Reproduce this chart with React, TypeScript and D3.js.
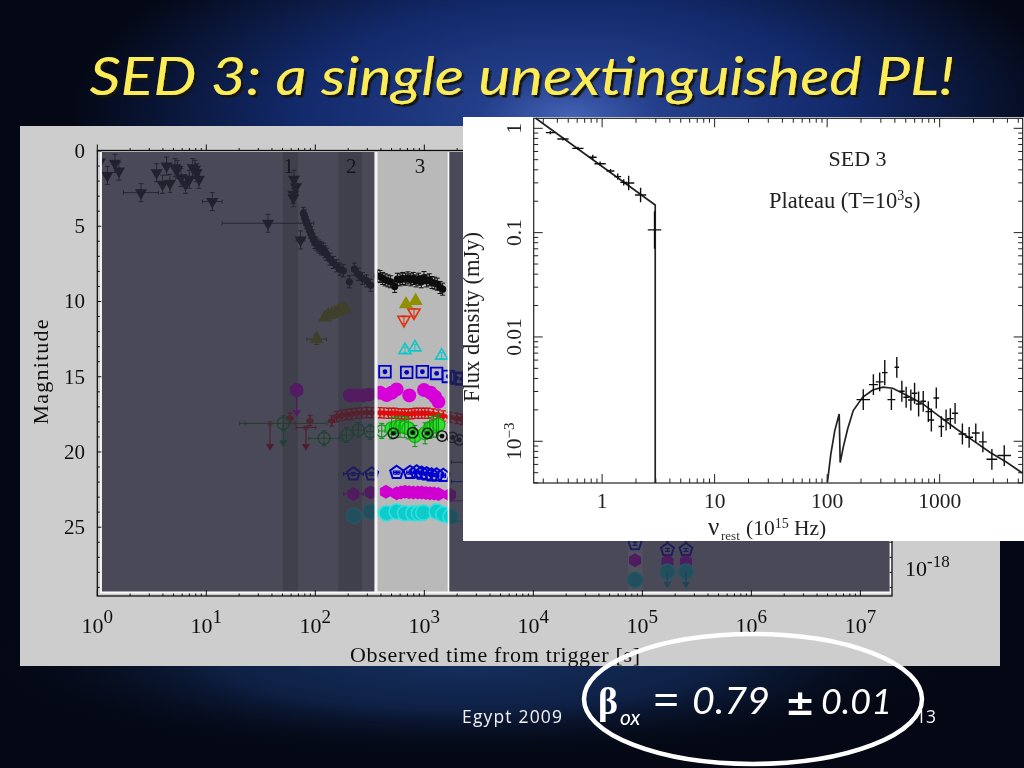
import React from "react";
import * as d3 from "d3";

// ---------- left panel data (log10 time [s], magnitude) ----------
const uvotLimT = [.024,.092,.162,.199,.544,.599,.636,.667,.713,.734,.768,.81,.844,.875,.896,.911,.933,.401,1.055,1.566,1.804,1.823,1.798,1.798,1.865];
const uvotLimM = [.73,1.62,.82,1.33,1.44,2.21,1,2.15,1.11,1.22,1.77,2.21,1.88,1.11,1.22,1.44,1.88,2.77,3.36,4.8,1.88,2.37,2.88,3.1,5.91];
const uvotLimDx = [0,0,0,0,0,0,0,0,0,0,0,0,0,0,0,0,0,.16,.09,.42,0,0,0,0,.04];
const blackT = [1.89,1.899,1.908,1.92,1.933,1.945,1.957,1.969,1.982,1.997,2.012,2.028,2.043,2.058,2.073,2.089,2.104,2.135,2.165,2.196,2.226,2.257,2.312,2.358,2.394,2.431,2.471,2.508,2.569,2.593,2.618,2.642,2.667,2.691,2.728,2.752,2.777,2.801,2.826,2.85,2.875,2.899,2.924,2.948,2.972,2.997,3.021,3.046,3.07,3.095,3.119,3.144,3.168];
const blackM = [4.14,4.31,4.54,4.76,4.98,5.2,5.42,5.64,5.86,6.08,6.19,6.31,6.42,6.5,6.53,6.7,6.86,7.19,7.41,7.63,7.85,7.96,8.69,7.85,8.19,8.47,8.63,8.92,8.3,8.34,8.47,8.56,8.63,8.69,9,8.52,8.56,8.47,8.52,8.43,8.56,8.47,8.63,8.52,8.69,8.41,8.63,8.56,8.74,8.78,8.85,9.07,9.18];
const oliveT = [2.012,2.089,2.12,2.15,2.18,2.21,2.242,2.272,2.832,2.92];
const oliveM = [12.5,11.06,10.9,10.84,10.73,10.62,10.46,10.5,10.18,9.96];
const redLimT = [2.813,2.905];
const redLimM = [11.22,10.73];
const cyanTriT = [2.823,2.914,3.159];
const cyanTriM = [13.23,13.05,13.6];
const squareT = [2.639,2.838,2.982,3.113,3.22,3.297,3.343];
const squareM = [14.67,14.71,14.67,14.78,14.98,15.09,15.16];
const magentaT = [1.829,2.318,2.379,2.44,2.492,2.593,2.654,2.7,2.746,2.862,2.997,3.058,3.098,3.129];
const magentaM = [15.885,16.24,16.24,16.24,16.19,16.06,16.22,16.06,15.84,16.24,15.88,16.06,16.33,16.66];
const redT = [1.768,1.951,2.15,2.196,2.242,2.287,2.333,2.379,2.425,2.471,2.517,2.593,2.63,2.67,2.7,2.731,2.76,2.792,2.82,2.853,2.885,2.914,2.945,2.976,3.005,3.037,3.083,3.129,3.174,3.235,3.297,3.343];
const redM = [17.77,17.92,17.94,17.65,17.57,17.52,17.48,17.43,17.41,17.37,17.39,17.39,17.41,17.43,17.43,17.43,17.46,17.48,17.48,17.48,17.46,17.43,17.43,17.43,17.43,17.43,17.48,17.54,17.61,17.7,17.77,17.83];
const redLimitT = [1.584,1.914];
const redLimitM = [18.1,18.38];
const redLimitDx = [.23,.09];
const greenT = [1.706,2.08,2.287,2.394,2.502,2.609];
const greenM = [18.1,19.09,18.87,18.54,18.65,18.6];
const greenDx = [.4,.14,.06,.05,.03,.03];
const limeT = [2.7,2.74,2.777,2.82,2.853,2.914,3.006,3.05,3.083,3.11,3.129];
const limeM = [18.43,18.35,18.32,18.35,18.43,18.94,18.76,18.4,18.32,18.3,18.2];
const ringT = [2.716,2.893,3.028,3.162,3.257,3.321];
const ringM = [18.76,18.72,18.76,18.94,19.03,19.2];
const pentT = [2.349,2.517,2.746,2.869,2.93,2.976,3.021,3.067,3.113,3.174,4.933,5.23,5.4];
const pentM = [21.46,21.46,21.37,21.37,21.33,21.42,21.46,21.53,21.53,21.57,26.1,26.5,26.5];
const pentDx = [.09,.05,.03,.03,.02,.02,.02,.02,.02,.02,0,0,0];
const hexT = [2.349,2.508,2.648,2.746,2.785,2.823,2.86,2.899,2.94,2.976,3.015,3.052,3.09,3.129,3.235,4.933,5.23,5.4];
const hexM = [22.79,22.7,22.65,22.74,22.7,22.65,22.68,22.7,22.7,22.7,22.72,22.74,22.76,22.79,22.85,27.2,27.3,27.3];
const hexDx = [.09,.05,.03,.02,.02,.02,.02,.02,.02,.02,.02,.02,.02,.02,.02,0,0,0];
const tealT = [2.355,2.508,2.654,2.746,2.823,2.899,2.95,2.991,3.113,3.174,3.241,4.933,5.23,5.4];
const tealM = [24.25,23.96,24.07,23.96,24.07,24.07,24.07,24.03,23.96,24.14,24.3,28.5,27.95,27.95];
const hiddenBarT = [3.55,3.55,3.55,3.55];
const hiddenBarM = [20.68,21.97,23.24,24.6];
const hiddenBarCol = ["#222244","#0000cc","#cc00cc","#00cccc"];
const bandEdges = [[1.7,1.84],[2.21,2.43]];
const bandNames = ["1","2","3"];
const bandNameT = [1.755,2.33,2.96];
const band3 = [2.55,3.21];
const lateBand = [4.87,5.0];
const xDecades = [0,1,2,3,4,5,6,7];
const yMags = [0,5,10,15,20,25];

// ---------- SED data (log10 nu, log10 flux, half-widths in dex) ----------
const optNu = [-.46,-.348,-.215,-.083,-.018,.074,.139,.192,.236,.342,.466];
const optFlux = [-.041,-.102,-.192,-.278,-.339,-.409,-.463,-.518,-.524,-.639,-.974];
const optDx = [.04,.05,.05,.035,.05,.035,.03,.03,.05,.05,.06];
const optDy = [.015,.015,.015,.025,.02,.02,.03,.03,.07,.07,.18];
const uvNu = [2.321,2.411,2.467,2.512,2.571,2.619,2.664,2.702,2.744,2.777,2.813,2.854,2.899,2.926,2.97,3.015,3.057,3.095,3.137,3.202,3.262,3.321,3.384,3.464,3.574];
const uvFlux = [-2.601,-2.457,-2.431,-2.342,-2.601,-2.291,-2.521,-2.578,-2.604,-2.54,-2.642,-2.617,-2.716,-2.796,-2.585,-2.859,-2.796,-2.783,-2.732,-2.93,-2.962,-2.92,-3.006,-3.173,-3.137];
const uvDx = [.06,.04,.035,.025,.035,.02,.025,.025,.025,.025,.025,.025,.025,.025,.025,.025,.025,.03,.027,.035,.035,.035,.035,.048,.06];
const uvDy = [.1,.1,.09,.12,.1,.1,.1,.1,.1,.1,.12,.1,.1,.11,.1,.1,.1,.1,.1,.1,.1,.09,.1,.1,.1];
const modelOptNu = [-.59,.472,.472];
const modelOptFlux = [.096,-.735,-3.4];
const modelUvNu = [2.003,2.033,2.068,2.107,2.116,2.143,2.182,2.232,2.315,2.405,2.494,2.583,2.702,2.851,3,3.149,3.298,3.446,3.595,3.738];
const modelUvFlux = [-3.39,-3.121,-2.898,-2.738,-3.204,-3.058,-2.882,-2.706,-2.578,-2.508,-2.482,-2.492,-2.556,-2.642,-2.764,-2.882,-2.994,-3.105,-3.201,-3.307];
const sedXLabels = ["1","10","100","1000"];
const sedXVals = [1,10,100,1000];
const sedYVals = [1,0.1,0.01];

const tx = d3.scaleLog().domain([1, 10 ** 7.29]).range([97.3, 892]);
const my = d3.scaleLinear().domain([0, 29.57]).range([151, 596]);
const t = (lg: number) => tx(10 ** lg);
const nx = d3.scaleLog().domain([10 ** -.608, 10 ** 3.738]).range([533.7, 1022.7]);
const fy = d3.scaleLog().domain([10 ** .096, 10 ** -3.4]).range([118.3, 483]);
const n = (lg: number) => nx(10 ** lg);
const f = (lg: number) => fy(10 ** lg);

const poly = (k: number, r: number, rot = -Math.PI / 2) =>
  d3.line()(d3.range(k).map(i => [r * Math.cos(rot + i * 2 * Math.PI / k), r * Math.sin(rot + i * 2 * Math.PI / k)] as [number, number])) + "Z";
const up = poly(3, 7);
const down = poly(3, 7, Math.PI / 2);
const pent = poly(5, 6.8);
const hexa = poly(6, 7);

const Bars = ({ T, M, Dx, Dy = .35, color, w = 1 }: any) => (
  <g stroke={color} strokeWidth={w} fill="none">
    {T.map((lg: number, i: number) => {
      const dx = Dx ? Dx[i] : 0;
      const x = t(lg), y = my(M[i]);
      return <g key={i}>
        {dx > 0 && <path d={`M${t(lg - dx)},${y}H${t(lg + dx)}M${t(lg - dx)},${y - 2}v4M${t(lg + dx)},${y - 2}v4`} />}
        <path d={`M${x},${my(M[i] - Dy)}V${my(M[i] + Dy)}M${x - 2.5},${my(M[i] - Dy)}h5M${x - 2.5},${my(M[i] + Dy)}h5`} />
      </g>;
    })}
  </g>
);
const Marks = ({ T, M, d, fill = "none", stroke = "none", sw = 1.2 }: any) => (
  <g>{T.map((lg: number, i: number) => <path key={i} d={d} transform={`translate(${t(lg)},${my(M[i])})`} fill={fill} stroke={stroke} strokeWidth={sw} />)}</g>
);
const Discs = ({ T, M, r, fill = "none", stroke = "none", sw = 1.2 }: any) => (
  <g>{T.map((lg: number, i: number) => <circle key={i} cx={t(lg)} cy={my(M[i])} r={r} fill={fill} stroke={stroke} strokeWidth={sw} />)}</g>
);
const Cross = ({ X, Y, Dx, Dy }: any) => (
  <g stroke="#111" strokeWidth={1.4} fill="none">
    {X.map((lg: number, i: number) => <path key={i} d={`M${n(lg - Dx[i])},${f(Y[i])}H${n(lg + Dx[i])}M${n(lg)},${f(Y[i] - Dy[i])}V${f(Y[i] + Dy[i])}`} />)}
  </g>
);
const Arrow = ({ lg, m0, m1, color }: any) => {
  const x = t(lg), a = my(m0), b = my(m1);
  return <path d={`M${x},${a}V${b}M${x - 3},${b - 5}L${x},${b}L${x + 3},${b - 5}Z`} stroke={color} strokeWidth={1.2} fill={color} />;
};

const serif = "'Liberation Serif', serif";
const xline = d3.line<[number, number]>().x(d => n(d[0])).y(d => f(d[1]));

export default function App() {
  const xMinor = tx.ticks(60);
  const yMinor = d3.range(0, 30);
  const nTicks = nx.ticks(60);
  const fTicks = fy.ticks(60);
  const x0 = 101.5, x1 = 375, x2 = 448.5, x3 = 890.5, yTop = 152, yBot = 592.5;
  const veil = "rgba(37,37,56,0.75)";
  return (
    <svg width={1024} height={768} style={{ position: "fixed", left: 0, top: 0, display: "block" }}>
      <defs>
        <radialGradient id="bgTop" gradientUnits="userSpaceOnUse" cx={570} cy={115} r={500} gradientTransform="translate(570 115) scale(1 .42) translate(-570 -115)">
          <stop offset="0" stopColor="#4262b4" />
          <stop offset=".18" stopColor="#243f8a" />
          <stop offset=".55" stopColor="#12296a" />
          <stop offset="1" stopColor="#040814" />
        </radialGradient>
        <radialGradient id="bgBot" gradientUnits="userSpaceOnUse" cx={470} cy={660} r={500} gradientTransform="translate(470 660) scale(1 .2) translate(-470 -660)">
          <stop offset="0" stopColor="#16305f" />
          <stop offset=".5" stopColor="#0e2044" />
          <stop offset="1" stopColor="#040814" stopOpacity="0" />
        </radialGradient>
        <clipPath id="plotClip"><rect x={x0} y={yTop} width={x3 - x0} height={yBot - yTop} /></clipPath>
        <filter id="soft" x="-5%" y="-5%" width="110%" height="110%"><feGaussianBlur stdDeviation="0.45" /></filter>
        <filter id="titleShadow" x="-5%" y="-20%" width="110%" height="140%"><feDropShadow dx="2.5" dy="2.5" stdDeviation="0.6" floodColor="#14140a" floodOpacity="1" /></filter>
      </defs>
      <rect width={1024} height={768} fill="#040814" />
      <rect width={1024} height={768} fill="url(#bgTop)" />
      <rect width={1024} height={768} fill="url(#bgBot)" />

      {/* title */}
      <text x={522} y={95} textAnchor="middle" fontFamily="Lato, sans-serif" fontStyle="italic" fontSize={52} fill="#fbec58" textLength={865} lengthAdjust="spacingAndGlyphs" filter="url(#titleShadow)">SED 3: a single unextinguished PL!</text>

      {/* left panel */}
      <rect x={20} y={126} width={980} height={540} fill="#cdcdcd" />
      <g filter="url(#soft)">
        <rect x={x0} y={yTop} width={x3 - x0} height={yBot - yTop} fill="#b9b9b9" />
        {bandEdges.map((b, i) => <rect key={i} x={t(b[0])} y={yTop} width={t(b[1]) - t(b[0])} height={yBot - yTop} fill="#8f8f8f" />)}
        <rect x={t(lateBand[0])} y={yTop} width={t(lateBand[1]) - t(lateBand[0])} height={yBot - yTop} fill="#d4d4d4" />
        <g clipPath="url(#plotClip)">
          <Bars T={uvotLimT} M={uvotLimM} Dx={uvotLimDx} Dy={.6} color="#222" />
          <Marks T={uvotLimT} M={uvotLimM} d={down} fill="#111" />
          <Bars T={blackT} M={blackM} Dy={.4} color="#111" />
          <Discs T={blackT} M={blackM} r={3.6} fill="#111" />
          <Bars T={oliveT.slice(0, 1)} M={oliveM.slice(0, 1)} Dx={[.09]} color="#555500" />
          <Marks T={oliveT} M={oliveM} d={up} fill="#8f8f00" stroke="#8f8f00" />
          <Marks T={redLimT} M={redLimM} d={down} fill="none" stroke="#e03010" sw={1.6} />
          <Bars T={redLimT} M={redLimM} Dy={.25} color="#e03010" />
          <Marks T={cyanTriT} M={cyanTriM} d={up} fill="none" stroke="#10c8c8" sw={1.6} />
          <Bars T={cyanTriT} M={cyanTriM} Dy={.2} color="#10c8c8" />
          <Marks T={squareT} M={squareM} d={d3.symbol(d3.symbolSquare, 135)() as string} stroke="#0000c8" sw={1.8} />
          <Discs T={squareT} M={squareM} r={2.4} fill="#0000c8" />
          <Discs T={magentaT} M={magentaM} r={7} fill="#d800d8" />
          <Arrow lg={magentaT[0]} m0={magentaM[0]} m1={17.6} color="#d800d8" />
          <Bars T={redT} M={redM} Dx={redT.map(() => .025)} Dy={.34} color="#d81010" w={1.4} />
          <Marks T={redT} M={redM} d={poly(4, 3.8)} fill="#e01010" />
          {redLimitT.map((lg, i) => <Arrow key={i} lg={lg} m0={redLimitM[i]} m1={19.85} color="#c01010" />)}
          <Bars T={redLimitT} M={redLimitM} Dx={redLimitDx} Dy={.1} color="#c01010" />
          <Bars T={greenT} M={greenM} Dx={greenDx} Dy={.5} color="#109010" />
          <Discs T={greenT} M={greenM} r={6} stroke="#109a30" sw={1.5} />
          <Arrow lg={greenT[0]} m0={greenM[0]} m1={19.6} color="#109a30" />
          <Discs T={limeT} M={limeM} r={6.5} fill="#30e030" stroke="#10b010" />
          <Bars T={limeT} M={limeM} Dy={.7} color="#109010" />
          <Discs T={ringT} M={ringM} r={5.2} stroke="#111" sw={1.4} />
          <Discs T={ringT} M={ringM} r={2.4} fill="#111" />
          <Bars T={pentT} M={pentM} Dx={pentDx} Dy={.1} color="#0000d0" w={1.3} />
          <Marks T={pentT} M={pentM} d={pent} stroke="#0000d0" sw={2} />
          <Bars T={hexT} M={hexM} Dx={hexDx} Dy={.1} color="#d000d0" w={1.3} />
          <Marks T={hexT} M={hexM} d={hexa} fill="#d000d0" />
          <Discs T={tealT} M={tealM} r={7.6} fill="#10cccc" stroke="#30e0e0" sw={1.5} />
          <Arrow lg={tealT[12]} m0={tealM[12]} m1={29} color="#10a0b0" />
          <Arrow lg={tealT[13]} m0={tealM[13]} m1={29} color="#10a0b0" />
          <Arrow lg={pentT[11]} m0={25.3} m1={26} color="#111" />
          <Arrow lg={pentT[12]} m0={25.3} m1={26} color="#111" />
          {hiddenBarT.map((lg, i) => <path key={i} d={`M${t(lg - .3)},${my(hiddenBarM[i])}H${t(lg)}M${t(lg - .3)},${my(hiddenBarM[i]) - 2}v4`} stroke={hiddenBarCol[i]} strokeWidth={1} fill="none" />)}
        </g>
        {/* veil over the time intervals that are not highlighted */}
        <rect x={x0} y={yTop} width={t(band3[0]) - x0 - .5} height={yBot - yTop} fill={veil} />
        <rect x={x2} y={yTop} width={x3 - x2} height={yBot - yTop} fill={veil} />
        {bandNames.map((s, i) => <text key={s} x={t(bandNameT[i])} y={173} textAnchor="middle" fontFamily={serif} fontSize={21} fill="#15151f">{s}</text>)}
        <path d={`M${x1 + 1},${yTop}V${yBot}`} stroke="#f4f4f4" strokeWidth={3} />
        <path d={`M${x2},${yTop}V${yBot}`} stroke="#fafafa" strokeWidth={1.6} />
        <path d={`M${x0 - .5},${yTop}V${yBot}H${x3}V${yTop}`} stroke="#fafafa" strokeWidth={1.8} fill="none" />

        {/* frame and ticks */}
        <rect x={97.3} y={150.5} width={794.7} height={445.5} fill="none" stroke="#111" strokeWidth={1.3} />
        {xMinor.map((v, i) => {
          const major = Number.isInteger(Math.log10(v));
          const h = major ? 6 : 2.5;
          return <path key={i} d={`M${tx(v)},150.5v${-h}M${tx(v)},596v${-h}`} stroke="#111" strokeWidth={1} />;
        })}
        {yMinor.map(m => {
          const major = m % 5 === 0;
          const h = major ? 4 : 2.5;
          return <path key={m} d={`M97.3,${my(m)}h${h}M892,${my(m)}h${-h}`} stroke="#111" strokeWidth={1} />;
        })}
        {yMags.map(m => <text key={m} x={85} y={my(m) + 7} textAnchor="end" fontFamily={serif} fontSize={21} fill="#111">{m}</text>)}
        {xDecades.map(d => (
          <text key={d} x={tx(10 ** d)} y={633} textAnchor="middle" fontFamily={serif} fontSize={22} fill="#111">10<tspan dy={-10} fontSize={19}>{d}</tspan></text>
        ))}
        <text x={495} y={662} textAnchor="middle" fontFamily={serif} fontSize={22} fill="#111" textLength={290}>Observed time from trigger [s]</text>
        <text transform="translate(48,372) rotate(-90)" textAnchor="middle" fontFamily={serif} fontSize={22} fill="#111" textLength={105}>Magnitude</text>
        <text x={905} y={576} fontFamily={serif} fontSize={22} fill="#111">10<tspan dy={-9} fontSize={17}>-18</tspan></text>
      </g>

      {/* SED inset */}
      <g filter="url(#soft)">
        <rect x={463} y={117} width={561} height={424} fill="#fff" />
        <rect x={533.7} y={118.3} width={489} height={364.7} fill="none" stroke="#222" strokeWidth={1.2} />
        {nTicks.map((v, i) => {
          const major = Number.isInteger(Math.log10(v));
          const h = major ? 9 : 4.5;
          return <path key={i} d={`M${nx(v)},118.3v${h}M${nx(v)},483v${-h}`} stroke="#222" strokeWidth={1} />;
        })}
        {fTicks.map((v, i) => {
          const major = Math.abs(Math.log10(v) - Math.round(Math.log10(v))) < 1e-6;
          const h = major ? 9 : 4.5;
          return <path key={i} d={`M533.7,${fy(v)}h${h}M1022.7,${fy(v)}h${-h}`} stroke="#222" strokeWidth={1} />;
        })}
        <path d={xline(modelOptNu.map((v, i) => [v, modelOptFlux[i]]) as any) as string} fill="none" stroke="#222" strokeWidth={1.7} />
        <path d={xline(modelUvNu.map((v, i) => [v, modelUvFlux[i]]) as any) as string} fill="none" stroke="#222" strokeWidth={1.7} />
        <Cross X={optNu} Y={optFlux} Dx={optDx} Dy={optDy} />
        <Cross X={uvNu} Y={uvFlux} Dx={uvDx} Dy={uvDy} />
        {sedXVals.map((v, i) => <text key={v} x={nx(v)} y={508} textAnchor="middle" fontFamily={serif} fontSize={21.5} fill="#222">{sedXLabels[i]}</text>)}
        {sedYVals.map(v => <text key={v} transform={`translate(521,${fy(v)}) rotate(-90)`} textAnchor="middle" fontFamily={serif} fontSize={21.5} fill="#222">{v}</text>)}
        <text transform={`translate(521,${fy(0.001)}) rotate(-90)`} textAnchor="middle" fontFamily={serif} fontSize={21.5} fill="#222">10<tspan dy={-7} fontSize={15}>−3</tspan></text>
        <text transform="translate(479,317) rotate(-90)" textAnchor="middle" fontFamily={serif} fontSize={22.5} fill="#222">Flux density (mJy)</text>
        <text x={708} y={535} fontFamily={serif} fontSize={25} fill="#222">ν</text>
        <text x={721} y={540} fontFamily={serif} fontSize={13} fill="#333">rest</text>
        <text x={746} y={535} fontFamily={serif} fontSize={21.5} fill="#222">(10<tspan dy={-7} fontSize={14}>15</tspan><tspan dy={7}> Hz)</tspan></text>
        <text x={857.5} y={166} textAnchor="middle" fontFamily={serif} fontSize={22} fill="#222">SED 3</text>
        <text x={769} y={208} fontFamily={serif} fontSize={22.5} fill="#222">Plateau (T=10<tspan dy={-8} fontSize={14}>3</tspan><tspan dy={8}>s)</tspan></text>
      </g>

      {/* footer */}
      <text x={462} y={723} fontFamily="'Open Sans', sans-serif" fontSize={17.5} fill="#f2f2f2" textLength={100}>Egypt 2009</text>
      <text x={916} y={723} fontFamily="'Open Sans', sans-serif" fontSize={17.5} fill="#f2f2f2">13</text>
      <ellipse cx={753} cy={699} rx={169} ry={65} fill="none" stroke="#fff" strokeWidth={4.5} />
      <text x={598} y={714} fontFamily={serif} fontWeight="bold" fontSize={38} fill="#fff">β</text>
      <text x={620} y={725} fontFamily="Lato, sans-serif" fontStyle="italic" fontSize={21} fill="#fff">ox</text>
      <text x={653} y={716} fontFamily="'Open Sans', sans-serif" fontSize={46} fill="#fff">=</text>
      <text x={692} y={714} fontFamily="Lato, sans-serif" fontStyle="italic" fontSize={37} fill="#fff" textLength={78} lengthAdjust="spacingAndGlyphs">0.79</text>
      <text x={785} y={715} fontFamily="'DejaVu Sans', sans-serif" fontWeight="bold" fontSize={36} fill="#fff">±</text>
      <text x={821} y={714} fontFamily="Lato, sans-serif" fontStyle="italic" fontSize={34} fill="#fff" textLength={71} lengthAdjust="spacingAndGlyphs">0.01</text>
    </svg>
  );
}
